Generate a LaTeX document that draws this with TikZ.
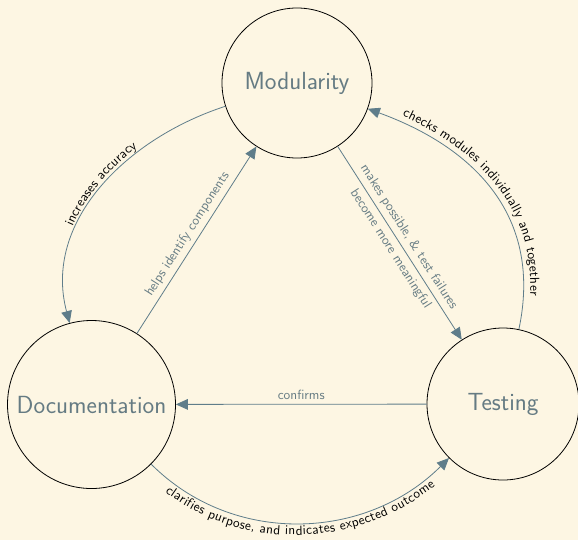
\documentclass[tikz,border=0pt]{standalone}
\usetikzlibrary{arrows.meta,decorations.text}
\definecolor{paper}{HTML}{FDF6E3}
\definecolor{slate}{HTML}{5F7D8A}
\definecolor{ink}{HTML}{657B83}
\tikzset{
 topic/.style={circle,draw=black,line width=0.6pt,text=ink,font=\sffamily\fontsize{18.6}{22}\selectfont,inner sep=0pt},
 link/.style={draw=slate,line width=0.6pt,-{Triangle[length=9pt,width=8pt]}},
 lbl/.style={text=ink,font=\sffamily,sloped,midway},
 curvelbl/.style={decorate,decoration={text along path,text align=center,raise=#1}},
}
\begin{document}
\begin{tikzpicture}[x=0.75pt,y=-0.75pt]
 \fill[paper] (0,0) rectangle (578,540);
 \useasboundingbox (0,0) rectangle (578,540);
 \node[topic,minimum size=112.5pt] (mod) at (297,83) {Modularity};
 \node[topic,minimum size=126pt] (doc) at (91.5,404.5) {Documentation};
 \node[topic,minimum size=114pt] (test) at (503,404) {Testing};
 \draw[link] (doc) -- node[lbl,above] {helps identify components} (mod);
 \draw[link] (mod) -- node[lbl,above] {makes possible, \& test failures} node[lbl,below] {become more meaningful} (test);
 \draw[link] (test) -- node[lbl,above] {confirms} (doc);
 \draw[link] (mod) to[out=198,in=105] (doc);
 \draw[link] (test) to[out=78,in=-20,looseness=1.1] (mod);
 \draw[link] (doc) to[out=-45,in=-135] (test);
 \path[curvelbl=3pt,decoration={text={|\sffamily|increases accuracy}}] (doc) to[out=105,in=198] (mod);
 \path[curvelbl=5pt,decoration={text={|\sffamily|checks modules individually and together}}] (mod) to[out=-20,in=78,looseness=1.1] (test);
 \path[curvelbl=-9pt,decoration={text={|\sffamily|clarifies purpose, and indicates expected outcome}}] (doc) to[out=-45,in=-135] (test);
\end{tikzpicture}
\end{document}
